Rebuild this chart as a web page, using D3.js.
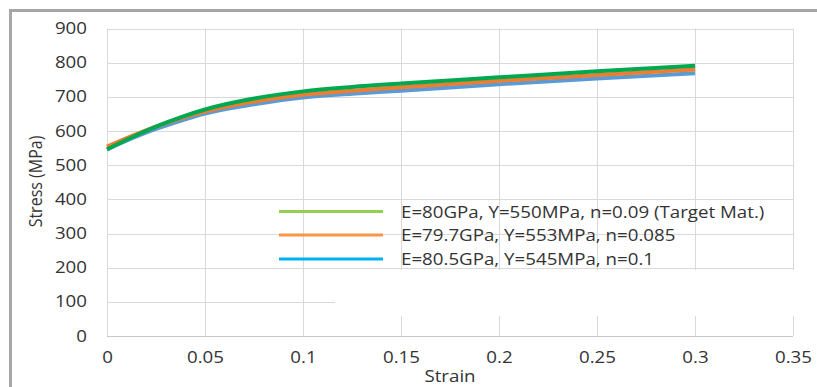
<!DOCTYPE html>
<html>
<head>
<meta charset="utf-8">
<script src="https://cdn.jsdelivr.net/npm/d3@7"></script>
<style>
  html, body { margin: 0; padding: 0; background: #fff; }
  svg { display: block; }
  text { font-family: "Open Sans", "Noto Sans", sans-serif; fill: #333; }
</style>
</head>
<body>
<svg id="chart" width="817" height="387"></svg>
<script>
// ---- data ----
const strain = [0, 0.0125, 0.025, 0.0375, 0.05, 0.075, 0.1, 0.125, 0.15, 0.2, 0.25, 0.3];
const stressTarget = [546, 581, 613, 640, 663, 695, 716, 729, 739, 757, 775, 791];
const stressA      = [554, 585, 613, 637, 657, 686, 706, 718, 728, 747, 764, 780];
const stressB      = [546, 578, 606, 630, 651, 678, 698, 709, 718, 737, 754, 769];
const seriesNames = [
  "E=80GPa, Y=550MPa, n=0.09 (Target Mat.)",
  "E=79.7GPa, Y=553MPa, n=0.085",
  "E=80.5GPa, Y=545MPa, n=0.1"
];
const xTicks = [0, 0.05, 0.1, 0.15, 0.2, 0.25, 0.3, 0.35];
const yTicks = [0, 100, 200, 300, 400, 500, 600, 700, 800, 900];
const xLabel = "Strain";
const yLabel = "Stress (MPa)";

const lineColors   = ["#00a850", "#ed7d31", "#5b9bd5"];
const legendColors = ["#92d050", "#f79646", "#00b0f0"];
const SX = 1.17; // horizontal stretch of the reference's text

const svg = d3.select("#chart");
const x = d3.scaleLinear().domain([0, 0.35]).range([107, 793]);
const y = d3.scaleLinear().domain([0, 900]).range([336, 28.5]);

// outer frame (top and left)
svg.append("line").attr("x1", 9).attr("x2", 817).attr("y1", 10.5).attr("y2", 10.5)
  .attr("stroke", "#a6a6a6").attr("stroke-width", 3);
svg.append("line").attr("x1", 10.5).attr("x2", 10.5).attr("y1", 9).attr("y2", 387)
  .attr("stroke", "#a6a6a6").attr("stroke-width", 3);

// gridlines
const grid = svg.append("g");
grid.selectAll("line.h").data(yTicks).join("line")
  .attr("x1", x(0)).attr("x2", x(0.35))
  .attr("y1", d => Math.round(y(d)) + 0.5).attr("y2", d => Math.round(y(d)) + 0.5)
  .attr("stroke", d => d === 0 ? "#c8c8c8" : "#d9d9d9").attr("stroke-width", 1);
grid.selectAll("line.v").data(xTicks).join("line")
  .attr("y1", y(0)).attr("y2", y(900))
  .attr("x1", d => Math.round(x(d)) + 0.5).attr("x2", d => Math.round(x(d)) + 0.5)
  .attr("stroke", "#d9d9d9").attr("stroke-width", 1);

// white patch of legend box that hides part of the grid
svg.append("rect").attr("x", 335).attr("y", 270).attr("width", 470).attr("height", 46)
  .attr("fill", "#fff");

// axes labels via d3 axes (no domain / tick lines)
const yAxis = svg.append("g").attr("transform", `translate(${x(0)},0)`)
  .call(d3.axisLeft(y).tickValues(yTicks).tickSize(0).tickPadding(20).tickFormat(d3.format("d")));
yAxis.select(".domain").remove();
yAxis.selectAll("text").attr("font-size", 16).attr("font-family", null).attr("fill", "#333")
  .attr("x", 0).attr("transform", `translate(-20,0) scale(${SX},1)`);

const xAxis = svg.append("g").attr("transform", `translate(0,${y(0)})`)
  .call(d3.axisBottom(x).tickValues(xTicks).tickSize(0).tickPadding(16).tickFormat(d => d === 0 ? "0" : String(d)));
xAxis.select(".domain").remove();
xAxis.selectAll("text").attr("font-size", 16).attr("font-family", null).attr("fill", "#333")
  .attr("transform", `scale(${SX},1)`);

svg.append("text").attr("transform", `translate(450,382) scale(${SX},1)`).attr("text-anchor", "middle")
  .attr("font-size", 16).text(xLabel);
svg.append("text").attr("transform", `translate(42,181.5) rotate(-90) scale(1,${SX})`).attr("text-anchor", "middle")
  .attr("font-size", 16).text(yLabel);

// curves
const series = [stressB, stressA, stressTarget];
const colorsDraw = [lineColors[2], lineColors[1], lineColors[0]];
const line = d3.line().x((d, i) => x(strain[i])).y(d => y(d)).curve(d3.curveMonotoneX);
svg.append("g").selectAll("path").data(series).join("path")
  .attr("d", d => line(d))
  .attr("fill", "none")
  .attr("stroke", (d, i) => colorsDraw[i])
  .attr("stroke-width", 4)
  .attr("stroke-linecap", "butt");

// legend
const legendY = [211.5, 235, 259];
const lg = svg.append("g");
seriesNames.forEach((name, i) => {
  lg.append("line").attr("x1", 279).attr("x2", 383).attr("y1", legendY[i]).attr("y2", legendY[i])
    .attr("stroke", legendColors[i]).attr("stroke-width", 3);
  lg.append("text").attr("transform", `translate(401,${legendY[i] + 6}) scale(${SX},1)`)
    .attr("font-size", 16).text(name);
});
</script>
</body>
</html>
